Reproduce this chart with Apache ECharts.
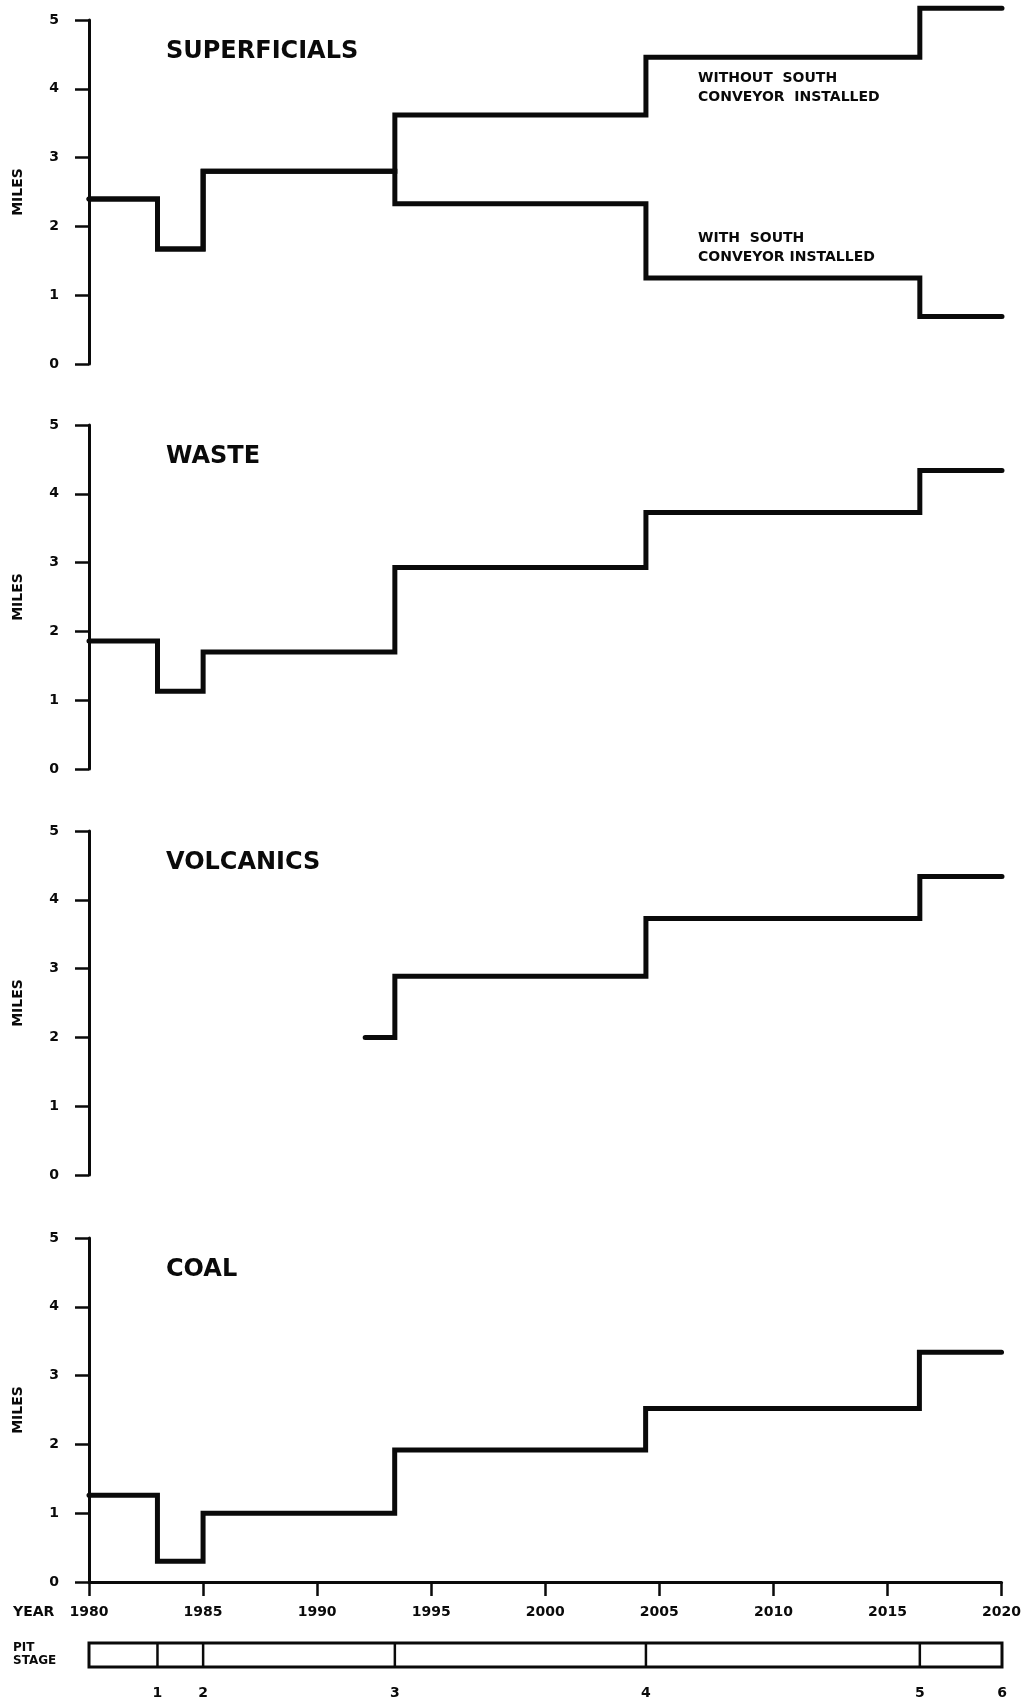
<!DOCTYPE html>
<html>
<head>
<meta charset="utf-8">
<script src="https://cdn.jsdelivr.net/npm/echarts@6/dist/echarts.min.js"></script>
<style>
html,body{margin:0;padding:0;background:#fff;}
#chart{width:1024px;height:1699px;}
</style>
</head>
<body>
<div id="chart"></div>
<script>
// ---- data ----
const stepYears = [1980, 1983, 1985, 1993.4, 2004.4, 2016.4, 2020];
const superficialsWithout = [2.40, 1.67, 2.80, 3.62, 4.46, 5.17, 5.17];
const superficialsWith = [2.40, 1.67, 2.80, 2.33, 1.25, 0.69, 0.69];
const waste = [1.86, 1.13, 1.70, 2.93, 3.73, 4.34, 4.34];
const volcanicsYears = [1992.1, 1993.4, 2004.4, 2016.4, 2020];
const volcanics = [2.00, 2.89, 3.73, 4.34, 4.34];
const coal = [1.26, 0.30, 1.00, 1.92, 2.52, 3.34, 3.34];
const panelTitles = ['SUPERFICIALS', 'WASTE', 'VOLCANICS', 'COAL'];
const stageBounds = [1983, 1985, 1993.4, 2004.4, 2016.4, 2020];
const stageLabels = ['1', '2', '3', '4', '5', '6'];
const annotationWithout = ['WITHOUT  SOUTH', 'CONVEYOR  INSTALLED'];
const annotationWith = ['WITH  SOUTH', 'CONVEYOR INSTALLED'];

// ---- layout ----
const FONT = '"DejaVu Sans", sans-serif';
const INK = '#0a0a0a';
const LEFT = 89, RIGHT = 22;
const panelTops = [20, 425, 831, 1238];
const PANEL_H = 344;

function pairs(xs, ys) { return xs.map((x, i) => [x, ys[i]]); }

const grids = [], xAxes = [], yAxes = [], series = [], graphics = [];

panelTops.forEach((top, i) => {
  grids.push({ left: LEFT, right: RIGHT, top: top, height: PANEL_H, containLabel: false });
  const isBottom = i === 3;
  xAxes.push({
    type: 'value', gridIndex: i, min: 1980, max: 2020, interval: 5,
    show: isBottom,
    axisLine: { show: true, lineStyle: { color: INK, width: 3 } },
    axisTick: { show: true, length: 14, lineStyle: { color: INK, width: 2.5 } },
    axisLabel: { show: true, margin: 23, color: INK, fontFamily: FONT, fontWeight: 'bold', fontSize: 14,
      showMinLabel: true, showMaxLabel: true, formatter: v => String(v) },
    splitLine: { show: false }
  });
  yAxes.push({
    type: 'value', gridIndex: i, min: 0, max: 5, interval: 1,
    name: 'MILES', nameLocation: 'middle', nameRotate: 90, nameGap: 64,
    nameTextStyle: { color: INK, fontFamily: FONT, fontWeight: 'bold', fontSize: 14 },
    axisLine: { show: true, lineStyle: { color: INK, width: 3 } },
    axisTick: { show: true, length: 14, lineStyle: { color: INK, width: 2.5 } },
    axisLabel: { margin: 30, color: INK, fontFamily: FONT, fontWeight: 'bold', fontSize: 14 },
    splitLine: { show: false }
  });
  graphics.push({
    type: 'text', x: 166, y: top + 32,
    style: { text: panelTitles[i], fill: INK, font: 'bold 24px ' + FONT, align: 'left', verticalAlign: 'middle' }
  });
});

const lineBase = {
  type: 'line', step: 'end', symbol: 'none', clip: false, silent: true,
  lineStyle: { color: INK, width: 5, join: 'miter', cap: 'round' }
};
series.push(Object.assign({}, lineBase, { name: 'Superficials without', xAxisIndex: 0, yAxisIndex: 0, data: pairs(stepYears, superficialsWithout) }));
series.push(Object.assign({}, lineBase, { name: 'Superficials with', xAxisIndex: 0, yAxisIndex: 0, data: pairs(stepYears, superficialsWith) }));
series.push(Object.assign({}, lineBase, { name: 'Waste', xAxisIndex: 1, yAxisIndex: 1, data: pairs(stepYears, waste) }));
series.push(Object.assign({}, lineBase, { name: 'Volcanics', xAxisIndex: 2, yAxisIndex: 2, data: pairs(volcanicsYears, volcanics) }));
series.push(Object.assign({}, lineBase, { name: 'Coal', xAxisIndex: 3, yAxisIndex: 3, data: pairs(stepYears, coal) }));

// ---- pit stage strip ----
grids.push({ left: LEFT, right: RIGHT, top: 1643, height: 24, show: true, borderColor: INK, borderWidth: 3, backgroundColor: 'transparent' });
xAxes.push({ type: 'value', gridIndex: 4, min: 1980, max: 2020, show: false });
yAxes.push({ type: 'value', gridIndex: 4, min: 0, max: 1, show: false });
series.push({
  type: 'custom', name: 'Pit stage', xAxisIndex: 4, yAxisIndex: 4, silent: true, clip: false,
  data: stageBounds.map((x, i) => [x, stageLabels[i]]),
  renderItem: function (params, api) {
    const x = api.value(0);
    const idx = params.dataIndex;
    const p0 = api.coord([x, 0]);
    const p1 = api.coord([x, 1]);
    const children = [];
    if (idx < stageBounds.length - 1) {
      children.push({ type: 'line', shape: { x1: p0[0], y1: p0[1], x2: p1[0], y2: p1[1] },
        style: { stroke: INK, lineWidth: 2.5 } });
    }
    children.push({ type: 'text', x: p0[0], y: p0[1] + 26,
      style: { text: stageLabels[idx], fill: INK, font: 'bold 14px ' + FONT, align: 'center', verticalAlign: 'middle' } });
    return { type: 'group', children: children };
  }
});

// ---- extra texts ----
graphics.push({ type: 'text', x: 13, y: 1612,
  style: { text: 'YEAR', fill: INK, font: 'bold 14px ' + FONT, align: 'left', verticalAlign: 'middle' } });
graphics.push({ type: 'text', x: 13, y: 1654,
  style: { text: 'PIT\nSTAGE', fill: INK, font: 'bold 12px ' + FONT, lineHeight: 13, align: 'left', verticalAlign: 'middle' } });
graphics.push({ type: 'text', x: 698, y: 88,
  style: { text: annotationWithout.join('\n'), fill: INK, font: 'bold 14px ' + FONT, lineHeight: 19, align: 'left', verticalAlign: 'middle' } });
graphics.push({ type: 'text', x: 698, y: 248,
  style: { text: annotationWith.join('\n'), fill: INK, font: 'bold 14px ' + FONT, lineHeight: 19, align: 'left', verticalAlign: 'middle' } });

const chart = echarts.init(document.getElementById('chart'), null, { renderer: 'canvas' });
chart.setOption({
  animation: false,
  backgroundColor: '#ffffff',
  grid: grids,
  xAxis: xAxes,
  yAxis: yAxes,
  series: series,
  graphic: graphics
});
</script>
</body>
</html>
